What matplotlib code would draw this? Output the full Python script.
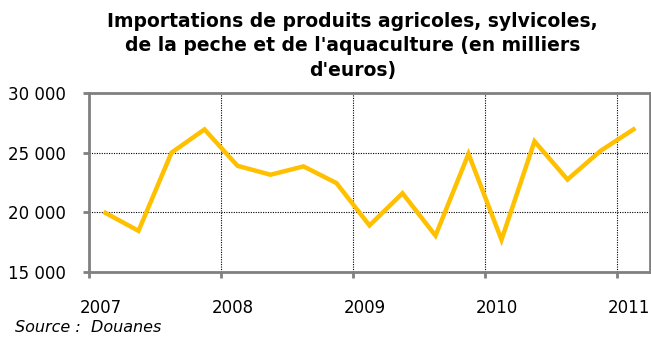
import matplotlib.pyplot as plt
import numpy as np

# Quarterly imports, 2007 Q1 to 2011 Q1 (thousand euros)
quarters = ["2007T1", "2007T2", "2007T3", "2007T4",
            "2008T1", "2008T2", "2008T3", "2008T4",
            "2009T1", "2009T2", "2009T3", "2009T4",
            "2010T1", "2010T2", "2010T3", "2010T4",
            "2011T1"]
imports = [19950, 18450, 25000, 26950,
           23900, 23150, 23850, 22450,
           18900, 21600, 18050, 24900,
           17700, 25950, 22750, 25150,
           26950]
year_labels = ["2007", "2008", "2009", "2010", "2011"]

GOLD = "#FFC000"
GREY = "#808080"

fig = plt.figure(figsize=(6.51, 3.40), dpi=100)
ax = fig.add_axes([89 / 651, 1 - 272 / 340, 561 / 651, 179 / 340])

x = np.arange(len(imports)) + 0.5
ax.plot(x, imports, color=GOLD, linewidth=3.2, solid_joinstyle="miter")

ax.set_xlim(0, len(quarters))
ax.set_ylim(15000, 30000)
ax.set_yticks([15000, 20000, 25000, 30000])
ax.set_yticklabels([f"{v:,}".replace(",", " ") for v in [15000, 20000, 25000, 30000]],
                   fontsize=12)

year_pos = np.arange(0, len(quarters), 4)
ax.set_xticks(year_pos)
ax.set_xticklabels([])
for pos, lab in zip(year_pos, year_labels):
    ax.text(pos + 0.35, 12700, lab, ha="center", va="top", fontsize=12)

ax.grid(True, color="#000000", linestyle=(0, (1, 1.2)), linewidth=0.8)
ax.set_axisbelow(True)
for s in ax.spines.values():
    s.set_color(GREY)
    s.set_linewidth(2)
ax.tick_params(axis="both", color=GREY, width=2, length=4, direction="out")
ax.tick_params(axis="y", pad=13)

fig.text(0.541, 0.966,
         "Importations de produits agricoles, sylvicoles,\n"
         "de la peche et de l'aquaculture (en milliers\n"
         "d'euros)",
         ha="center", va="top", fontsize=13.5, fontweight="bold", linespacing=1.38)
fig.text(15 / 651, 1 - 327 / 340, "Source :  Douanes", ha="left", va="center",
         fontsize=11.5, style="italic")

fig.savefig("out.png", dpi=100)
